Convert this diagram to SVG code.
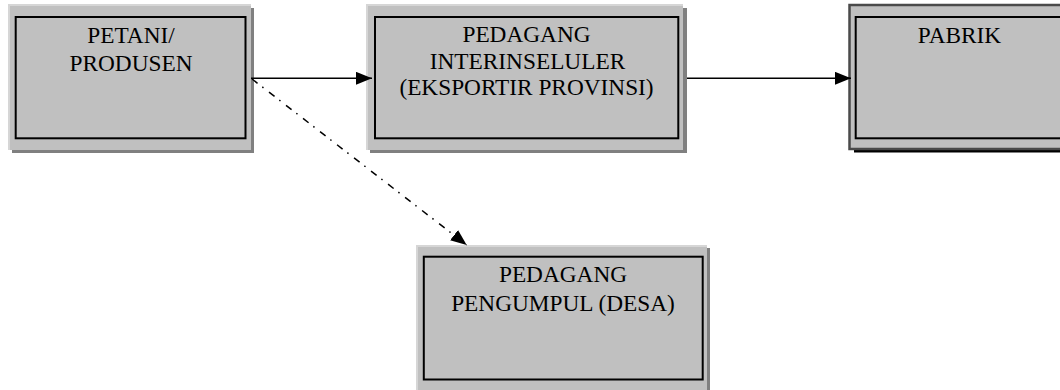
<svg xmlns="http://www.w3.org/2000/svg" width="1060" height="390" viewBox="0 0 1060 390">
  <style>
    .hl { fill: #d6d6d6; }
    .face { fill: #c0c0c0; }
    .shadow { fill: #808080; }
    .inner { fill: none; stroke: #000; stroke-width: 2; }
    .label { font-family: "Liberation Serif", "Times New Roman", serif; font-size: 23.3px; fill: #000; text-anchor: middle; }
    .conn { fill: none; stroke: #000; stroke-width: 1.5; }
    .dashdot { stroke-dasharray: 7 6 1.5 7; }
  </style>
  <defs>
    <marker id="arrow" markerUnits="userSpaceOnUse" markerWidth="17" markerHeight="14" refX="16" refY="6.5" orient="auto">
      <path d="M0,0 L16,6.5 L0,13 Z" fill="#000"/>
    </marker>
  </defs>
  <rect width="1060" height="390" fill="#fff"/>

  <g id="node-petani">
    <rect class="shadow" x="12" y="8" width="242" height="145"/>
    <rect class="hl" x="8" y="4" width="243" height="146"/>
    <rect class="face" x="10" y="6" width="241" height="144"/>
    <rect class="inner" x="15.7" y="17" width="229.8" height="121.3"/>
    <text class="label" x="131" y="43">PETANI/</text>
    <text class="label" x="131" y="71">PRODUSEN</text>
  </g>

  <g id="node-interinsuler">
    <rect class="shadow" x="370" y="8" width="317" height="145"/>
    <rect class="hl" x="366" y="4" width="317" height="146"/>
    <rect class="face" x="368" y="6" width="315" height="144"/>
    <rect class="inner" x="375" y="17" width="303.3" height="121.3"/>
    <text class="label" x="526.5" y="42">PEDAGANG</text>
    <text class="label" x="527.5" y="68.5">INTERINSELULER</text>
    <text class="label" x="526.5" y="95">(EKSPORTIR PROVINSI)</text>
  </g>

  <g id="node-pabrik">
    <rect x="854" y="8.5" width="300" height="144" fill="#000"/>
    <rect x="849.5" y="5" width="300" height="144" fill="#c0c0c0" stroke="#4a4a4a" stroke-width="2.5"/>
    <rect class="inner" x="855.7" y="17" width="300" height="121.3"/>
    <text class="label" x="959.5" y="43">PABRIK</text>
  </g>

  <g id="node-pengumpul">
    <rect class="shadow" x="420" y="248" width="290" height="150"/>
    <rect class="hl" x="416" y="245" width="291" height="150"/>
    <rect class="face" x="418" y="247" width="289" height="148"/>
    <rect class="inner" x="423.8" y="256.7" width="278.9" height="122.8"/>
    <text class="label" x="563" y="281.5">PEDAGANG</text>
    <text class="label" x="563" y="310.5">PENGUMPUL (DESA)</text>
  </g>

  <g id="connectors">
    <line class="conn" x1="251" y1="78.3" x2="372" y2="78.3" marker-end="url(#arrow)"/>
    <line class="conn" x1="687" y1="78.3" x2="851" y2="78.3" marker-end="url(#arrow)"/>
    <line class="conn dashdot" x1="252" y1="79" x2="466.7" y2="245" marker-end="url(#arrow)"/>
  </g>
</svg>
